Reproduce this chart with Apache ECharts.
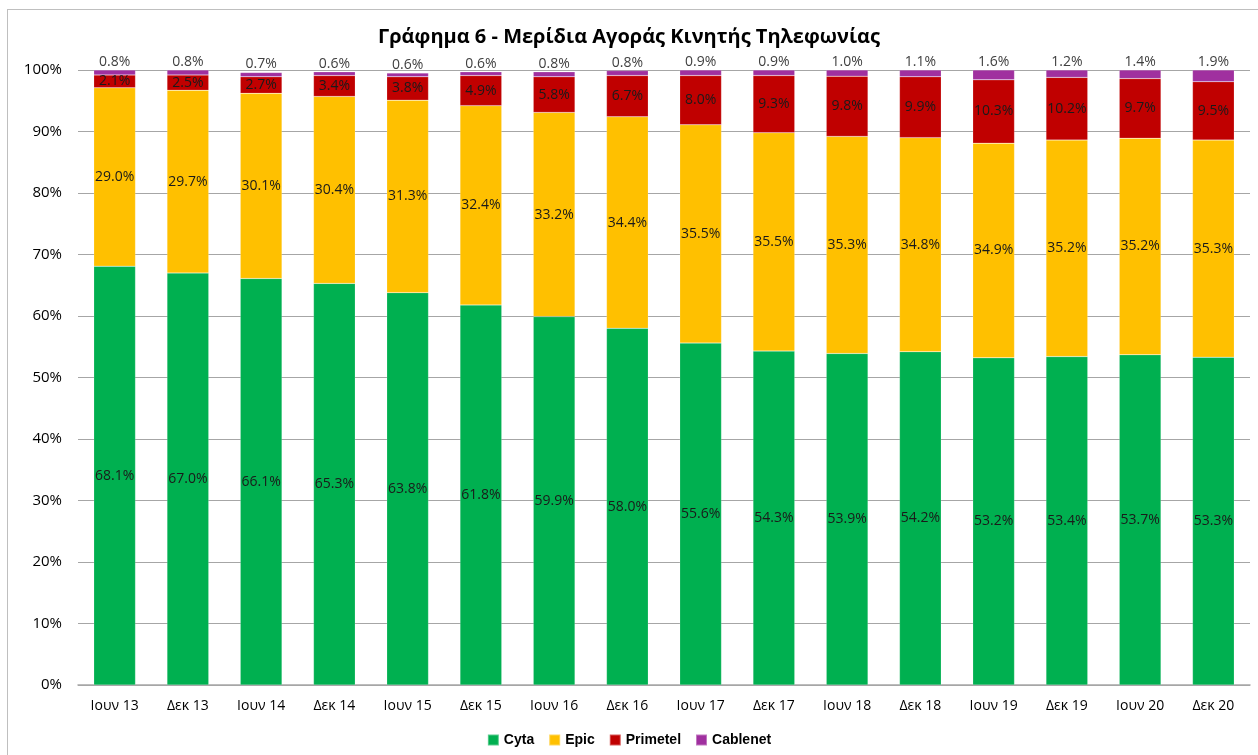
<!DOCTYPE html>
<html>
<head>
<meta charset="utf-8">
<script src="https://cdn.jsdelivr.net/npm/echarts@6/dist/echarts.min.js"></script>
<style>
  html, body { margin: 0; padding: 0; background: #fff; overflow: hidden; }
  #frame { position: absolute; left: 7px; top: 9px; width: 1262px; height: 760px; border: 1px solid #bfbfbf; box-sizing: border-box; }
  #chart { position: absolute; left: 0; top: 0; width: 1258px; height: 755px; }
</style>
</head>
<body>
<div id="frame"></div>
<div id="chart"></div>
<script>
// Periods (half-years)
const categories = ["Ιουν 13", "Δεκ 13", "Ιουν 14", "Δεκ 14", "Ιουν 15", "Δεκ 15", "Ιουν 16", "Δεκ 16",
  "Ιουν 17", "Δεκ 17", "Ιουν 18", "Δεκ 18", "Ιουν 19", "Δεκ 19", "Ιουν 20", "Δεκ 20"]

// Market shares (%)
const cyta = [68.1, 67.0, 66.1, 65.3, 63.8, 61.8, 59.9, 58.0, 55.6, 54.3, 53.9, 54.2, 53.2, 53.4, 53.7, 53.3]
const epic = [29.0, 29.7, 30.1, 30.4, 31.3, 32.4, 33.2, 34.4, 35.5, 35.5, 35.3, 34.8, 34.9, 35.2, 35.2, 35.3]
const primetel = [2.1, 2.5, 2.7, 3.4, 3.8, 4.9, 5.8, 6.7, 8.0, 9.3, 9.8, 9.9, 10.3, 10.2, 9.7, 9.5]
const cablenet = [0.8, 0.8, 0.7, 0.6, 0.6, 0.6, 0.8, 0.8, 0.9, 0.9, 1.0, 1.1, 1.6, 1.2, 1.4, 1.9]

const font = "'Open Sans', 'Noto Sans', sans-serif"
const pct = p => p.value.toFixed(1) + "%"

function barSeries(name, data, color, labelPos) {
  return {
    type: "bar",
    name,
    stack: "share",
    data,
    barWidth: "57%",
    itemStyle: { color, borderColor: "rgba(255,255,255,0.35)", borderWidth: 0.5 },
    label: {
      show: true,
      position: labelPos,
      formatter: pct,
      fontFamily: font,
      fontSize: 14,
      color: labelPos === "top" ? "#404040" : "#1a1a1a",
      distance: 1
    }
  }
}

const chart = echarts.init(document.getElementById("chart"))
chart.setOption({
  animation: false,
  title: {
    text: "Γράφημα 6 - Μερίδια Αγοράς Κινητής Τηλεφωνίας",
    left: "center",
    top: 22,
    textStyle: { fontFamily: font, fontSize: 20, fontWeight: "bold", color: "#000" }
  },
  legend: {
    bottom: 3,
    left: "center",
    itemWidth: 11,
    itemHeight: 11,
    itemGap: 14,
    icon: "rect",
    textStyle: { fontFamily: "'Liberation Sans', Arial, sans-serif", fontSize: 14, fontWeight: "bold", color: "#000" },
    data: ["Cyta", "Epic", "Primetel", "Cablenet"]
  },
  grid: { left: 78, right: 8, top: 70, bottom: 70 },
  xAxis: {
    type: "category",
    data: categories,
    axisTick: { show: false },
    axisLine: { lineStyle: { color: "#a6a6a6", width: 1.5 } },
    axisLabel: { fontFamily: font, fontSize: 14, color: "#000", margin: 14 }
  },
  yAxis: {
    type: "value",
    min: 0,
    max: 100,
    interval: 10,
    axisLabel: { formatter: "{value}%", fontFamily: font, fontSize: 15, color: "#000", margin: 16 },
    axisLine: { show: false },
    axisTick: { show: false },
    splitLine: { lineStyle: { color: "#a6a6a6", width: 1 } }
  },
  series: [
    barSeries("Cyta", cyta, "#00b050", "inside"),
    barSeries("Epic", epic, "#ffc000", "inside"),
    barSeries("Primetel", primetel, "#c00000", "inside"),
    barSeries("Cablenet", cablenet, "#a0309f", "top")
  ]
})
</script>
</body>
</html>
